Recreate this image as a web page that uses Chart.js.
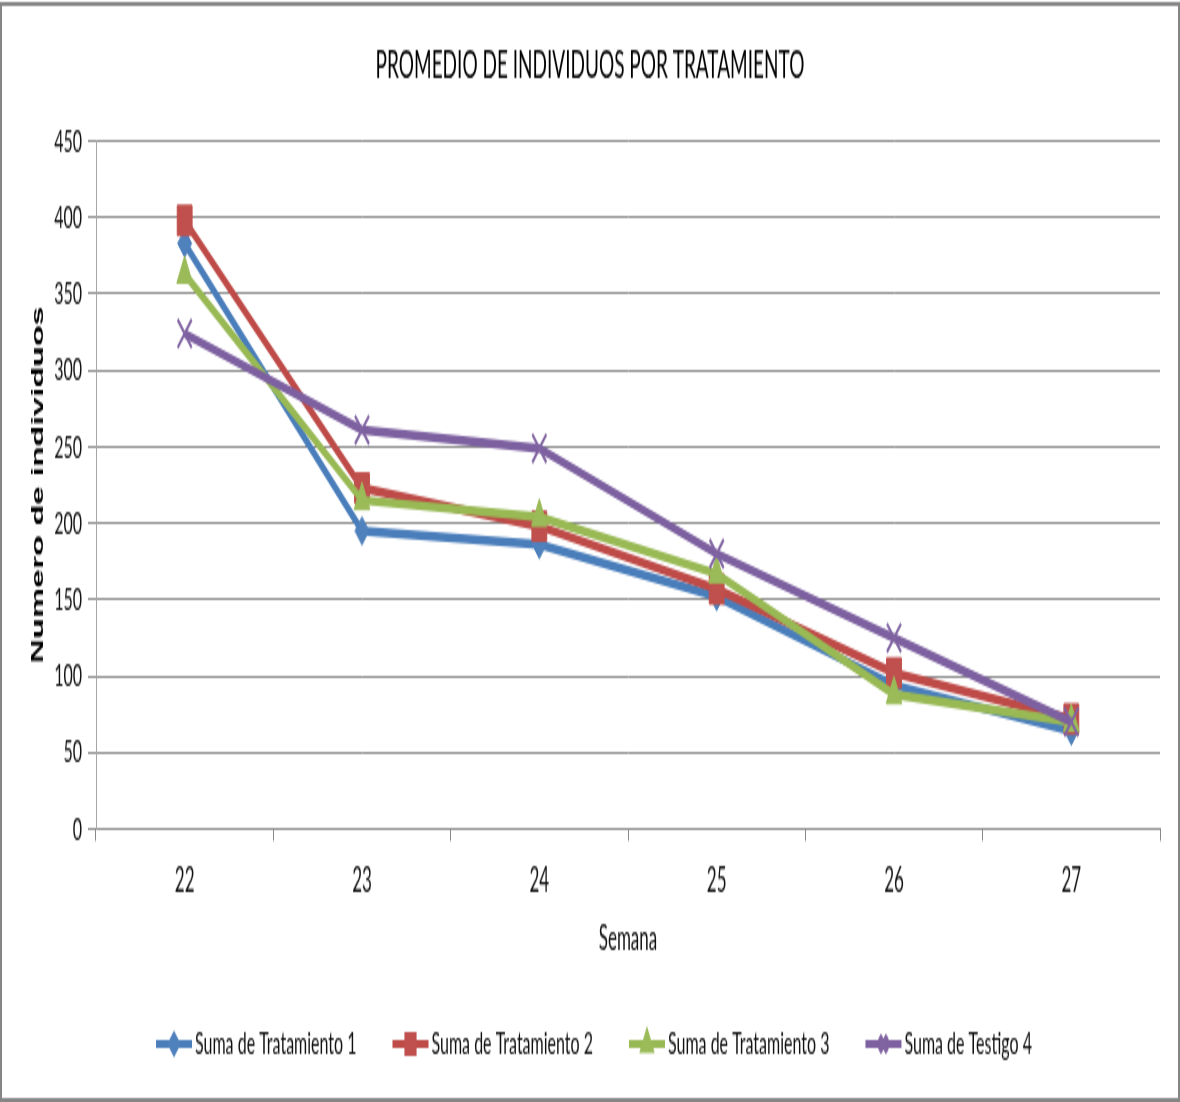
<!DOCTYPE html>
<html>
<head>
<meta charset="utf-8">
<title>Promedio de individuos por tratamiento</title>
<script src="https://cdn.jsdelivr.net/npm/chart.js"></script>
<style>
  html, body { margin: 0; padding: 0; background: #fff; }
  #wrap { width: 1180px; height: 1102px; overflow: hidden; }
  /* the chart is drawn at half height and stretched vertically */
  #chart { display: block; transform: scaleY(2); transform-origin: 0 0; }
</style>
</head>
<body>
<div id="wrap"><canvas id="chart" width="1180" height="551"></canvas></div>
<script>
const semanas = ['22', '23', '24', '25', '26', '27'];
const tratamiento1 = [383, 195, 186, 152, 94, 64];
const tratamiento2 = [398, 223, 198, 157, 102, 72];
const tratamiento3 = [363, 215, 204, 167, 88, 70];
const testigo4 = [324, 261, 249, 180, 125, 70];
const seriesNames = ['Suma de Tratamiento 1', 'Suma de Tratamiento 2', 'Suma de Tratamiento 3', 'Suma de Testigo 4'];
const yMax = 450;
const yStep = 50;

const FONT = 'Lato, "Liberation Sans", sans-serif';
const GRID = '#8a8a8a';

function series(label, data, line, fill, style, radius, order, extra) {
  return Object.assign({
    label,
    data,
    borderColor: line,
    backgroundColor: fill,
    borderWidth: 4.5,
    tension: 0,
    pointStyle: style,
    pointRadius: radius,
    pointBackgroundColor: fill,
    pointBorderColor: fill,
    pointBorderWidth: 1,
    order
  }, extra || {});
}

// white background plus the grey frame round the whole chart
const framePlugin = {
  id: 'frame',
  beforeDraw(chart) {
    const ctx = chart.ctx;
    ctx.save();
    ctx.fillStyle = '#fff';
    ctx.fillRect(0, 0, chart.width, chart.height);
    ctx.restore();
  },
  afterDraw(chart) {
    const ctx = chart.ctx;
    ctx.save();
    ctx.strokeStyle = '#868686';
    ctx.lineWidth = 2;
    ctx.strokeRect(1, 2, chart.width - 2, chart.height - 3);
    ctx.restore();
  }
};

// legend row: line sample with its marker, then the label
const lineLegend = {
  id: 'lineLegend',
  afterDraw(chart) {
    const ctx = chart.ctx;
    const sets = chart.data.datasets;
    const y = 522;
    const sample = 36, gap = 3, spacing = 36;
    ctx.save();
    ctx.font = '16px ' + FONT;
    const widths = sets.map(ds => ctx.measureText(ds.label).width);
    const total = widths.reduce((a, w) => a + sample + gap + w, 0) + spacing * (sets.length - 1);
    let x = chart.width / 2 + 4 - total / 2;
    sets.forEach((ds, i) => {
      ctx.strokeStyle = ds.borderColor;
      ctx.lineWidth = 4;
      ctx.beginPath();
      ctx.moveTo(x, y);
      ctx.lineTo(x + sample, y);
      ctx.stroke();
      ctx.fillStyle = ds.pointBackgroundColor;
      ctx.strokeStyle = ds.pointBorderColor;
      Chart.helpers.drawPoint(ctx, {
        pointStyle: ds.pointStyle,
        radius: ds.pointRadius * 0.55,
        borderWidth: ds.pointBorderWidth,
        rotation: 0
      }, x + sample / 2, y);
      ctx.fillStyle = '#111';
      ctx.textBaseline = 'middle';
      ctx.textAlign = 'left';
      ctx.fillText(ds.label, x + sample + gap, y);
      x += sample + gap + widths[i] + spacing;
    });
    ctx.restore();
  }
};

new Chart(document.getElementById('chart'), {
  type: 'line',
  data: {
    labels: semanas,
    datasets: [
      series(seriesNames[0], tratamiento1, '#4A7EBB', '#4F81BD', 'rectRot', 7, 4),
      series(seriesNames[1], tratamiento2, '#BE4B48', '#C0504D', 'rect', 10.5, 3),
      series(seriesNames[2], tratamiento3, '#98B954', '#9BBB59', 'triangle', 9, 2),
      series(seriesNames[3], testigo4, '#7D60A0', '#8064A2', 'crossRot', 10, 1, { pointBorderWidth: 2 })
    ]
  },
  options: {
    responsive: false,
    devicePixelRatio: 1,
    animation: false,
    events: [],
    layout: { padding: { top: 20, left: 20, right: 20, bottom: 71 } },
    scales: {
      x: {
        offset: true,
        afterFit(scale) { scale.height = 65.5; },
        grid: { offset: true, drawOnChartArea: false, drawTicks: true, tickLength: 6, color: GRID },
        border: { color: GRID, width: 1 },
        ticks: { color: '#111', padding: 10, font: { family: FONT, size: 17 } },
        title: {
          display: true,
          text: 'Semana',
          color: '#111',
          padding: { top: 0, bottom: 0 },
          font: { family: FONT, size: 17 }
        }
      },
      y: {
        min: 0,
        max: yMax,
        afterFit(scale) { scale.width = 76; },
        grid: { color: GRID, tickLength: 8 },
        border: { color: '#a6a6a6', width: 1 },
        ticks: { stepSize: yStep, color: '#111', padding: 6, font: { family: FONT, size: 16 } },
        title: {
          display: true,
          text: 'Numero de individuos',
          color: '#000',
          padding: { top: 8, bottom: 0 },
          font: { family: '"Liberation Sans", Arial, sans-serif', size: 17, weight: 'bold' }
        }
      }
    },
    plugins: {
      legend: { display: false },
      tooltip: { enabled: false },
      title: {
        display: true,
        text: 'PROMEDIO DE INDIVIDUOS POR TRATAMIENTO',
        color: '#000',
        padding: { top: 1, bottom: 26.7 },
        font: { family: FONT, size: 19, weight: 'normal' }
      }
    }
  },
  plugins: [framePlugin, lineLegend]
});
</script>
</body>
</html>
